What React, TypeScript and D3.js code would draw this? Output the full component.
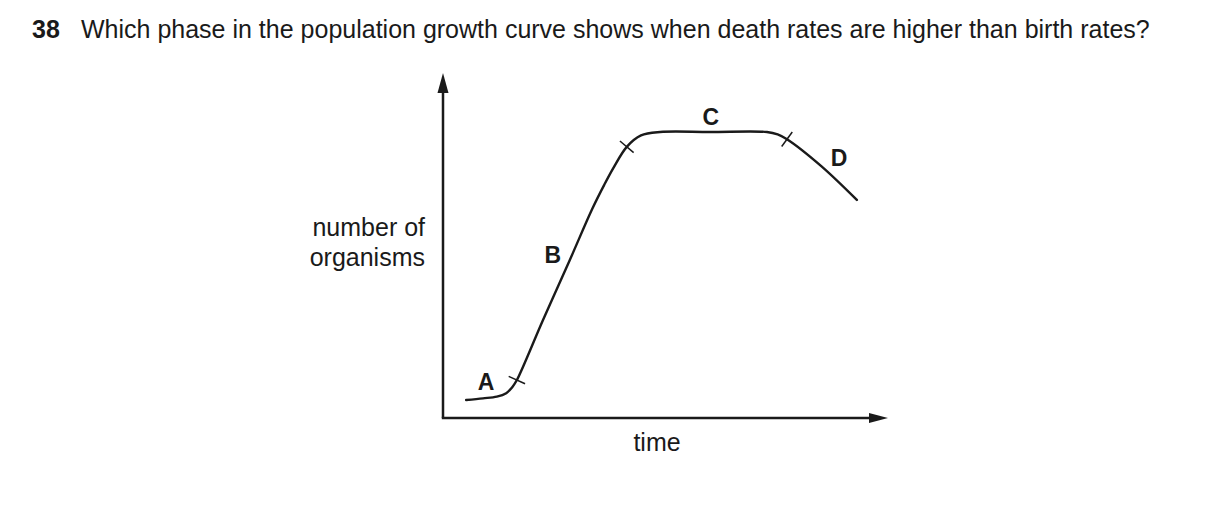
import React from "react";
import * as d3 from "d3";

// Question text
const questionNumber = "38";
const questionText = "Which phase in the population growth curve shows when death rates are higher than birth rates?";
const yAxisLabel = ["number of", "organisms"];
const xAxisLabel = "time";

// Curve: time (0-100) vs number of organisms (0-100)
const curveTime = [5.2, 9, 12.1, 14.2, 15.6, 16.6, 22.5, 28.5, 33.5, 36.2, 38.3, 41.3, 44.5, 48.8, 60, 72.8, 75.2, 77.3, 85, 93.0];
const curveNumber = [5.2, 5.7, 6.2, 7.2, 9.0, 11.0, 28.5, 45.8, 60.5, 67.5, 72.5, 78.6, 81.9, 82.9, 82.9, 82.9, 82.2, 80.8, 73.0, 63.2];

// Phase boundaries (indices into curve points) and phase labels
const boundaryIndex = [5, 11, 17];
const phaseNames = ["A", "B", "C", "D"];
const phaseLabelTime = [9.7, 24.7, 60.2, 89.0];
const phaseLabelNumber = [10.7, 47.5, 87.5, 75.4];

export default function App() {
  const W = 1209, H = 509;
  const x0 = 443, x1 = 888, y0 = 418, y1 = 73;
  const x = d3.scaleLinear().domain([0, 100]).range([x0, x1]);
  const y = d3.scaleLinear().domain([0, 100]).range([y0, y1]);

  const pts: [number, number][] = curveTime.map((t, i) => [x(t), y(curveNumber[i])]);
  const line = d3.line().curve(d3.curveCatmullRom.alpha(0.5));
  const d = line(pts) || "";

  const ticks = boundaryIndex.map((bi) => {
    const p = pts[bi];
    const a = pts[bi - 1];
    const b = pts[bi + 1];
    let dx = b[0] - a[0], dy = b[1] - a[1];
    const len = Math.hypot(dx, dy);
    dx /= len; dy /= len;
    const nx = -dy, ny = dx;
    const h = 9;
    return { x1: p[0] - nx * h, y1: p[1] - ny * h, x2: p[0] + nx * h, y2: p[1] + ny * h };
  });

  const font = "Liberation Sans, Arial, Helvetica, sans-serif";

  return (
    <svg width={W} height={H} style={{ position: "absolute", left: 0, top: 0, background: "#fff" }} fontFamily={font}>
      <rect x={0} y={0} width={W} height={H} fill="#fff" />
      <text x={32} y={38} fontSize={25} fontWeight="bold" fill="#1a1a1a">{questionNumber}</text>
      <text x={81} y={38} fontSize={25} fill="#1a1a1a">{questionText}</text>

      {/* axes */}
      <line x1={x0} y1={y0} x2={x0} y2={y1 + 16} stroke="#1a1a1a" strokeWidth={2.5} />
      <line x1={x0 - 1.2} y1={y0} x2={x1 - 16} y2={y0} stroke="#1a1a1a" strokeWidth={2.5} />
      <path d={`M${x0},${y1} L${x0 - 5.5},${y1 + 20} L${x0 + 5.5},${y1 + 20} Z`} fill="#1a1a1a" />
      <path d={`M${x1},${y0} L${x1 - 19},${y0 - 5} L${x1 - 19},${y0 + 5} Z`} fill="#1a1a1a" />

      {/* curve */}
      <path d={d} fill="none" stroke="#1a1a1a" strokeWidth={2.4} strokeLinecap="round" />
      {ticks.map((t, i) => (
        <line key={i} x1={t.x1} y1={t.y1} x2={t.x2} y2={t.y2} stroke="#1a1a1a" strokeWidth={1.5} />
      ))}
      {phaseNames.map((n, i) => (
        <text key={n} x={x(phaseLabelTime[i])} y={y(phaseLabelNumber[i]) + 8.5} fontSize={23} fontWeight="bold" textAnchor="middle" fill="#1a1a1a">{n}</text>
      ))}

      {/* axis labels */}
      <text x={425} y={236} fontSize={25} textAnchor="end" fill="#1a1a1a">{yAxisLabel[0]}</text>
      <text x={425} y={266} fontSize={25} textAnchor="end" fill="#1a1a1a">{yAxisLabel[1]}</text>
      <text x={657} y={451} fontSize={25} textAnchor="middle" fill="#1a1a1a">{xAxisLabel}</text>
    </svg>
  );
}
